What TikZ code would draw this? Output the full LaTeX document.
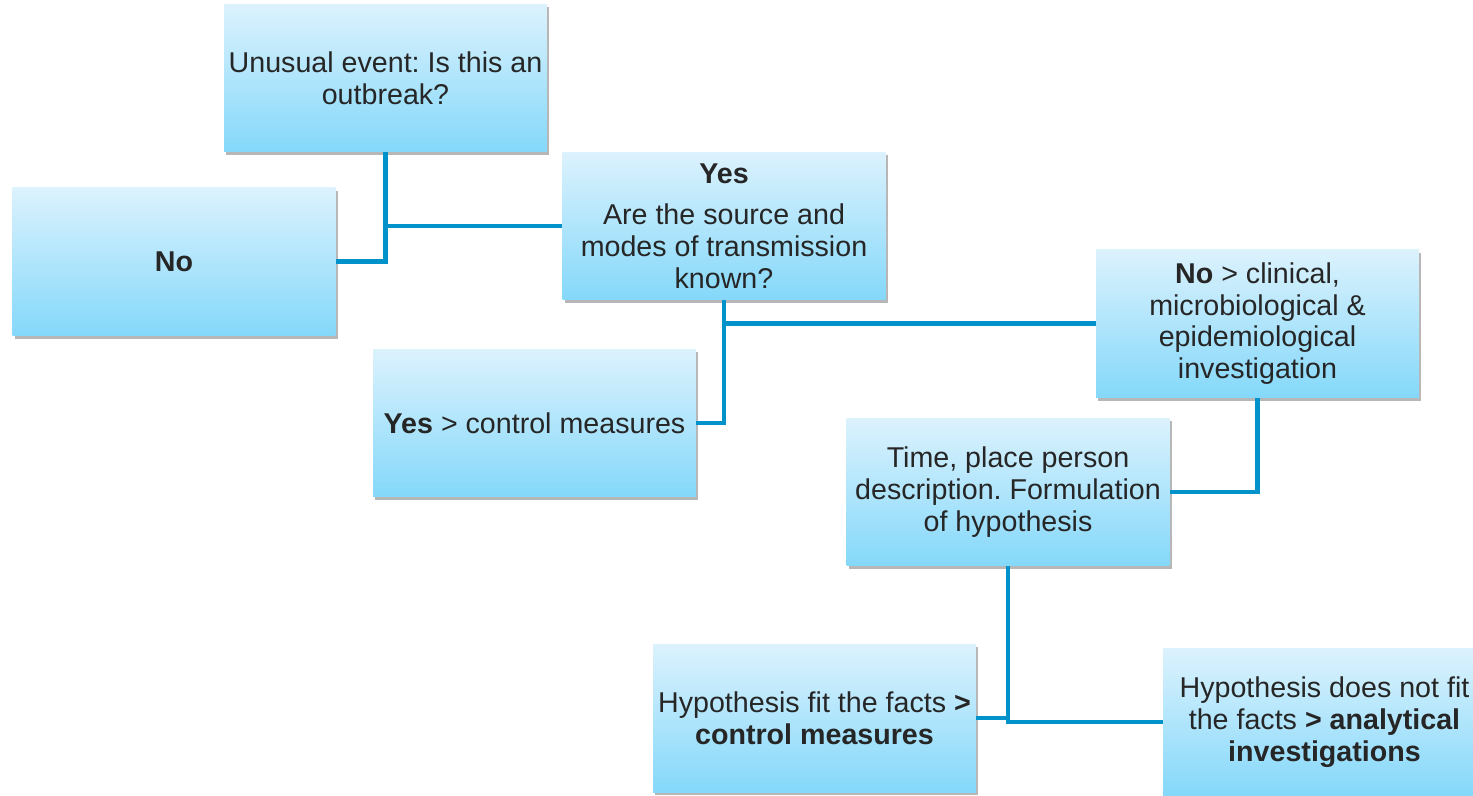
\documentclass[tikz,border=0pt]{standalone}
\usepackage{fontspec}
\setmainfont{Liberation Sans}
\usetikzlibrary{shadows}
\definecolor{boxtop}{RGB}{220,242,253}
\definecolor{boxbot}{RGB}{132,216,250}
\definecolor{linkblue}{RGB}{0,146,200}
\definecolor{txtgray}{RGB}{38,38,38}
\frenchspacing
\begin{document}
\begin{tikzpicture}[x=0.02cm, y=-0.02cm,
  stepbox/.style={rectangle, minimum width=6.46cm, minimum height=2.96cm, inner sep=0pt,
    align=center, top color=boxtop, bottom color=boxbot, text=txtgray,
    font=\fontsize{16.3}{18.1}\selectfont,
    drop shadow={shadow xshift=1.2pt, shadow yshift=-1.8pt, opacity=0.4, fill=black!70}},
  link/.style={draw=linkblue, line width=2.3pt}]

\useasboundingbox (0,0) rectangle (1473,795);

\node[stepbox] (event)    at (385.5,78)   {Unusual event: Is this an\\outbreak?};
\node[stepbox] (no)       at (174,261.5)  {\textbf{No}};
\node[stepbox] (known)    at (724,226)    {\textbf{Yes}\\[0.2cm]Are the source and\\modes of transmission\\known?};
\node[stepbox] (clinical) at (1257.5,323.5) {\textbf{No} > clinical,\\microbiological \&\\epidemiological\\investigation};
\node[stepbox] (yescm)    at (534.5,423)  {\textbf{Yes} > control measures};
\node[stepbox] (tpp)      at (1008,492)   {Time, place person\\description. Formulation\\of hypothesis};
\node[stepbox] (fit)      at (814.5,718)  {Hypothesis fit the facts \textbf{>}\\\textbf{control measures}};
\node[stepbox] (notfit)   at (1324.5,722) {Hypothesis does not fit\\the facts \textbf{> analytical}\\\textbf{investigations}};

\draw[link] (event.south) |- (no.east);
\draw[link] (event.south) |- (known.west);
\draw[link] (known.south) |- (yescm.east);
\draw[link] (known.south) |- (clinical.west);
\draw[link] (clinical.south) |- (tpp.east);
\draw[link] (tpp.south) |- (fit.east);
\draw[link] (tpp.south) |- (notfit.west);
\end{tikzpicture}
\end{document}
